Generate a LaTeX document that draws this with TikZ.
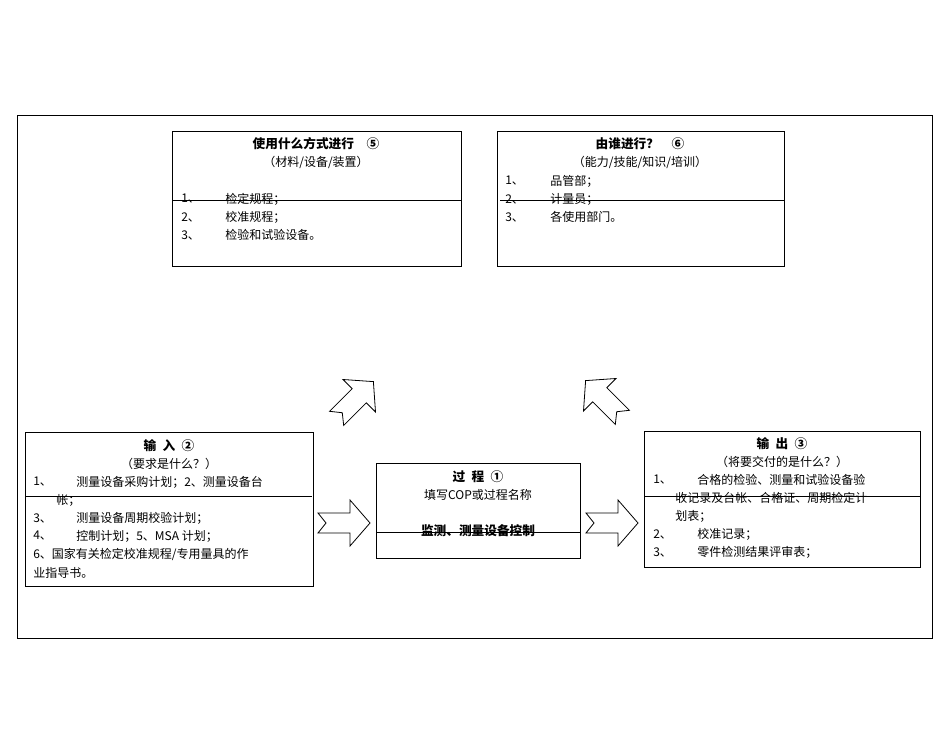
\documentclass[tikz,border=0pt]{standalone}
\usepackage{fontspec}
\setmainfont{Noto Sans CJK SC}
\begin{document}
\begin{tikzpicture}[x=0.75pt,y=-0.75pt,
  box/.style={draw,line width=0.6pt},
  t/.style={anchor=west,inner sep=0pt,font=\fontsize{9}{10}\selectfont},
  c/.style={anchor=center,inner sep=0pt,font=\fontsize{9}{10}\selectfont},
  h/.style={anchor=center,inner sep=0pt,font=\fontsize{9.5}{10}\selectfont\bfseries},
  barr/.style={draw,line width=0.6pt,fill=white}]
\useasboundingbox (0,0) rectangle (950,735);
\draw[line width=0.6pt] (17,115) rectangle (932,638);
% boxes
\draw[box] (172,131) rectangle (461,266);
\draw[box] (497,131) rectangle (784,266);
\draw[box] (25,432) rectangle (313,586);
\draw[box] (376,463) rectangle (580,558);
\draw[box] (644,431) rectangle (920,567);
\draw (172,200) -- (462,200);
\draw (500,200) -- (784,200);
\draw (25,496) -- (312,496);
\draw (376,532) -- (580,532);
\draw (644,496) -- (920,496);
% box 5
\node[h] at (316,144) {使用什么方式进行\quad ⑤};
\node[c] at (316,162) {（材料/设备/装置）};
\node[t] at (181,199) {1、};\node[t] at (225,199) {检定规程；};
\node[t] at (181,217) {2、};\node[t] at (225,217) {校准规程；};
\node[t] at (181,235) {3、};\node[t] at (225,235) {检验和试验设备。};
% box 6
\node[h] at (640,144) {由谁进行？\quad ⑥};
\node[c] at (640,162) {（能力/技能/知识/培训）};
\node[t] at (505,181) {1、};\node[t] at (550,181) {品管部；};
\node[t] at (505,199) {2、};\node[t] at (550,199) {计量员；};
\node[t] at (505,217) {3、};\node[t] at (550,217) {各使用部门。};
% input
\node[h] at (169,446) {输\enspace 入\enspace ②};
\node[c] at (169,464) {（要求是什么？）};
\node[t] at (33,482) {1、};\node[t] at (76,482) {测量设备采购计划；2、测量设备台};
\node[t] at (56,500) {帐；};
\node[t] at (33,518) {3、};\node[t] at (76,518) {测量设备周期校验计划；};
\node[t] at (33,536) {4、};\node[t] at (76,536) {控制计划；5、MSA 计划；};
\node[t] at (33,554) {6、国家有关检定校准规程/专用量具的作};
\node[t] at (33,573) {业指导书。};
% process
\node[h] at (478,477) {过\enspace 程\enspace ①};
\node[c] at (478,495) {填写COP或过程名称};
\node[h] at (478,531) {监测、测量设备控制};
% output
\node[h] at (782,444) {输\enspace 出\enspace ③};
\node[c] at (782,462) {（将要交付的是什么？）};
\node[t] at (653,480) {1、};\node[t] at (697,480) {合格的检验、测量和试验设备验};
\node[t] at (675,498) {收记录及台帐、合格证、周期检定计};
\node[t] at (675,516) {划表；};
\node[t] at (653,534) {2、};\node[t] at (697,534) {校准记录；};
\node[t] at (653,552) {3、};\node[t] at (697,552) {零件检测结果评审表；};
% block arrows
\foreach \cx/\cy/\ang in {344/523/0, 612/523/0, 355/400/45, 604/399/135}{
  \draw[barr,shift={(\cx,\cy)},rotate=\ang]
    (-26,-10) -- (6,-10) -- (6,-23) -- (26,0) -- (6,23) -- (6,10) -- (-26,10) -- (-18,0) -- cycle;
}
\end{tikzpicture}
\end{document}
